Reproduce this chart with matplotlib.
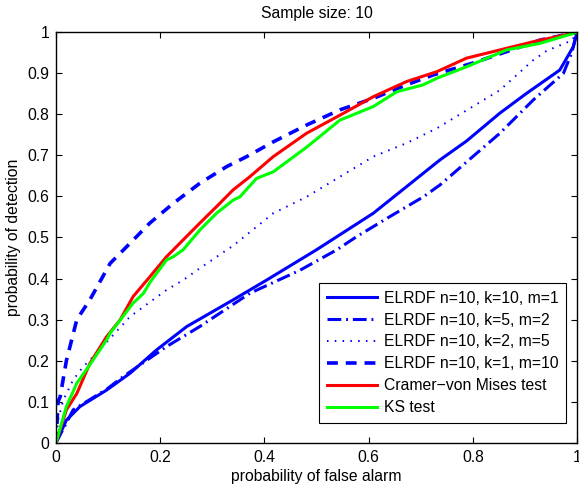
import numpy as np
import matplotlib
matplotlib.use("Agg")
import matplotlib.pyplot as plt

plt.rcParams["font.family"] = ["Liberation Sans", "DejaVu Sans"]

# ROC curves
fa_k10 = [0, 0.02, 0.046, 0.097, 0.142, 0.193, 0.251, 0.34, 0.404, 0.5, 0.609, 0.673, 0.737, 0.788, 0.852, 0.903, 0.967, 0.993, 1.0]
pd_k10 = [0, 0.055, 0.088, 0.128, 0.169, 0.226, 0.283, 0.348, 0.396, 0.47, 0.559, 0.624, 0.689, 0.735, 0.803, 0.851, 0.908, 0.965, 1.0]

fa_k5 = [0, 0.033, 0.097, 0.129, 0.212, 0.276, 0.372, 0.468, 0.539, 0.577, 0.641, 0.705, 0.737, 0.852, 0.916, 0.974, 0.99, 1.0]
pd_k5 = [0, 0.08, 0.13, 0.161, 0.234, 0.283, 0.364, 0.42, 0.47, 0.502, 0.551, 0.599, 0.628, 0.754, 0.835, 0.9, 0.95, 1.0]

fa_k2 = [0, 0.004, 0.014, 0.033, 0.052, 0.078, 0.142, 0.212, 0.244, 0.276, 0.34, 0.417, 0.481, 0.545, 0.609, 0.673, 0.731, 0.852, 0.916, 0.942, 0.99, 1.0]
pd_k2 = [0, 0.055, 0.104, 0.153, 0.185, 0.218, 0.307, 0.372, 0.396, 0.425, 0.48, 0.559, 0.599, 0.648, 0.697, 0.73, 0.766, 0.859, 0.932, 0.955, 0.98, 1.0]

fa_k1 = [0, 0.004, 0.008, 0.02, 0.04, 0.065, 0.104, 0.136, 0.18, 0.225, 0.276, 0.328, 0.366, 0.417, 0.481, 0.545, 0.609, 0.673, 0.724, 0.8, 0.87, 0.929, 1.0]
pd_k1 = [0, 0.1, 0.112, 0.2, 0.3, 0.348, 0.437, 0.478, 0.535, 0.583, 0.632, 0.673, 0.697, 0.733, 0.774, 0.811, 0.839, 0.872, 0.896, 0.925, 0.955, 0.981, 1.0]

fa_cvm = [0, 0.02, 0.04, 0.065, 0.097, 0.123, 0.148, 0.18, 0.212, 0.244, 0.276, 0.308, 0.34, 0.372, 0.417, 0.481, 0.545, 0.609, 0.673, 0.731, 0.788, 0.852, 0.916, 1.0]
pd_cvm = [0, 0.08, 0.12, 0.193, 0.258, 0.299, 0.356, 0.404, 0.453, 0.494, 0.535, 0.575, 0.616, 0.648, 0.697, 0.754, 0.798, 0.843, 0.88, 0.904, 0.937, 0.957, 0.977, 1.0]

fa_ks = [0, 0.02, 0.04, 0.065, 0.097, 0.104, 0.148, 0.168, 0.18, 0.212, 0.225, 0.244, 0.276, 0.308, 0.34, 0.353, 0.385, 0.417, 0.481, 0.545, 0.609, 0.654, 0.705, 0.731, 0.788, 0.865, 0.929, 1.0]
pd_ks = [0, 0.088, 0.145, 0.19, 0.25, 0.267, 0.34, 0.364, 0.39, 0.445, 0.453, 0.47, 0.518, 0.559, 0.591, 0.599, 0.644, 0.66, 0.72, 0.786, 0.819, 0.855, 0.872, 0.888, 0.916, 0.957, 0.973, 1.0]

labels = ["ELRDF n=10, k=10, m=1", "ELRDF n=10, k=5, m=2", "ELRDF n=10, k=2, m=5",
          "ELRDF n=10, k=1, m=10", "Cramer\u2212von Mises test", "KS test"]
ticks = [0, 0.1, 0.2, 0.3, 0.4, 0.5, 0.6, 0.7, 0.8, 0.9, 1]
tick_labels = ["0", "0.1", "0.2", "0.3", "0.4", "0.5", "0.6", "0.7", "0.8", "0.9", "1"]
xticks = [0, 0.2, 0.4, 0.6, 0.8, 1]
xtick_labels = ["0", "0.2", "0.4", "0.6", "0.8", "1"]

fs = 11.3

fig = plt.figure(figsize=(5.79, 4.87), dpi=100)
ax = fig.add_axes([0.0967, 0.091, 0.8998, 0.8427])

blue = "#0000ff"
ax.plot(fa_k10, pd_k10, color=blue, lw=2.2, label=labels[0])
ax.plot(fa_k5, pd_k5, color=blue, lw=2.2, dashes=(4.5, 1.6, 0.6, 1.6), label=labels[1])
ax.plot(fa_k2, pd_k2, color=blue, lw=1.4, dashes=(0.8, 3.2), label=labels[2])
ax.plot(fa_k1, pd_k1, color=blue, lw=2.6, dashes=(3.0, 2.2), label=labels[3])
ax.plot(fa_cvm, pd_cvm, color="#ff0000", lw=2.2, label=labels[4])
ax.plot(fa_ks, pd_ks, color="#00ff00", lw=2.2, label=labels[5])

ax.set_xlim(0, 1)
ax.set_ylim(0, 1)
ax.set_xticks(xticks)
ax.set_xticklabels(xtick_labels)
ax.set_yticks(ticks)
ax.set_yticklabels(tick_labels)
ax.tick_params(direction="in", length=4, width=0.8, top=True, right=True, labelsize=fs, pad=5)
for s in ax.spines.values():
    s.set_linewidth(1.0)

ax.set_title("Sample size: 10", fontsize=fs, pad=10.5)
ax.set_xlabel("probability of false alarm", fontsize=fs, labelpad=3)
ax.set_ylabel("probability of detection", fontsize=fs, labelpad=4)

leg = ax.legend(loc="lower right", bbox_to_anchor=(0.979, 0.048), fontsize=fs, frameon=True,
                fancybox=False, edgecolor="black", framealpha=1, handlelength=3.2,
                labelspacing=0.44, borderpad=0.5, handletextpad=0.4, borderaxespad=0)
leg.get_frame().set_linewidth(0.8)

fig.savefig("out.png", dpi=100)
